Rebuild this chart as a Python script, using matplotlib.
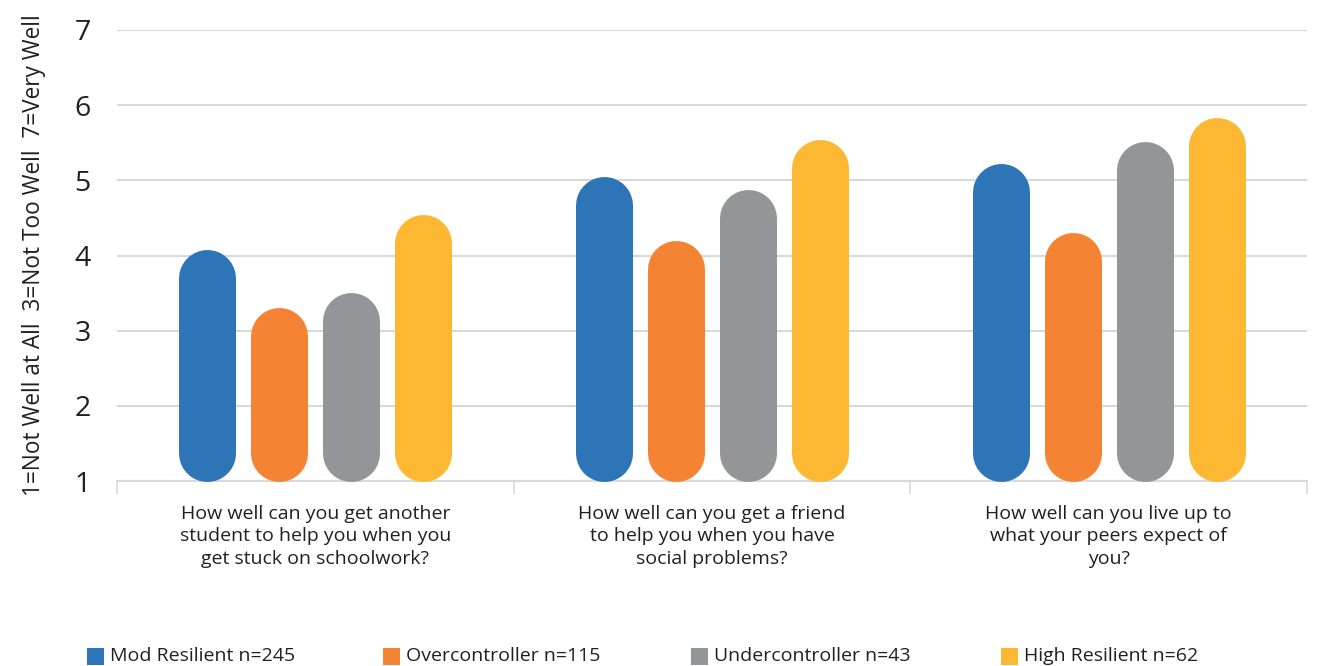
import matplotlib
matplotlib.use("Agg")
import matplotlib.pyplot as plt
import numpy as np

plt.rcParams['font.family'] = ['Open Sans', 'DejaVu Sans']

categories = [
    "How well can you get another\nstudent to help you when you\nget stuck on schoolwork?",
    "How well can you get a friend\nto help you when you have\nsocial problems?",
    "How well can you live up to\nwhat your peers expect of\nyou?",
]
series_names = ["Mod Resilient n=245", "Overcontroller n=115",
                "Undercontroller n=43", "High Resilient n=62"]
mod_resilient = [4.08, 5.05, 5.23]
overcontroller = [3.31, 4.20, 4.30]
undercontroller = [3.51, 4.88, 5.51]
high_resilient = [4.54, 5.54, 5.83]
series_values = [mod_resilient, overcontroller, undercontroller, high_resilient]
colors = ["#2E75B8", "#F58334", "#949598", "#FDB833"]
yticks = [1, 2, 3, 4, 5, 6, 7]

W, H = 1319, 666
fig = plt.figure(figsize=(W / 100, H / 100), dpi=100)
ax = fig.add_axes([117 / W, 1 - 481 / H, 1190 / W, 451 / H])
ax.set_xlim(0, 3)
ax.set_ylim(1, 7)

px_y = 451 / 6          # pixels per y unit
bar_px = 57             # bar width in pixels
r_y = (bar_px / 2) / px_y
lw_pt = bar_px * 72 / 100
slot = 0.1815
for i, (vals, c) in enumerate(zip(series_values, colors)):
    for j, v in enumerate(vals):
        xc = j + 0.5 + (i - 1.5) * slot
        ax.plot([xc, xc], [1 + r_y, v - r_y], color=c, lw=lw_pt,
                solid_capstyle='round', zorder=3, clip_on=False)

ax.set_yticks(yticks)
ax.set_yticklabels([str(t) for t in yticks], fontsize=20.5, color="#231F20")
ax.tick_params(axis='y', length=0, pad=19)
ax.grid(axis='y', color="#D9D9D9", lw=1.5, zorder=0)
ax.set_axisbelow(True)

ax.set_xticks([0, 1, 2, 3])
ax.set_xticklabels([])
ax.tick_params(axis='x', length=9, width=1.2, color="#D9D9D9")
ax.set_xticks([0.5, 1.5, 2.5], minor=True)
ax.set_xticklabels(categories, minor=True, fontsize=14, color="#231F20",
                   linespacing=1.32)
ax.tick_params(axis='x', which='minor', length=0, pad=17)

for s in ['top', 'right', 'left']:
    ax.spines[s].set_visible(False)
ax.spines['bottom'].set_color("#D9D9D9")
ax.spines['bottom'].set_linewidth(1.5)

ax.set_ylabel("1=Not Well at All  3=Not Too Well  7=Very Well",
              fontsize=16.3, color="#231F20")
ax.yaxis.set_label_coords(-71 / 1190, 0.5)

xs = [87, 383, 691, 1001]
for x0, c, name in zip(xs, colors, series_names):
    fig.patches.append(plt.Rectangle((x0 / W, 1 - 665 / H), 17 / W, 17 / H,
                                     transform=fig.transFigure, fc=c, ec='none'))
    fig.text((x0 + 23) / W, 1 - 656 / H, name, fontsize=14, color="#231F20",
             va='center', ha='left')

fig.savefig("out.png", dpi=100)
